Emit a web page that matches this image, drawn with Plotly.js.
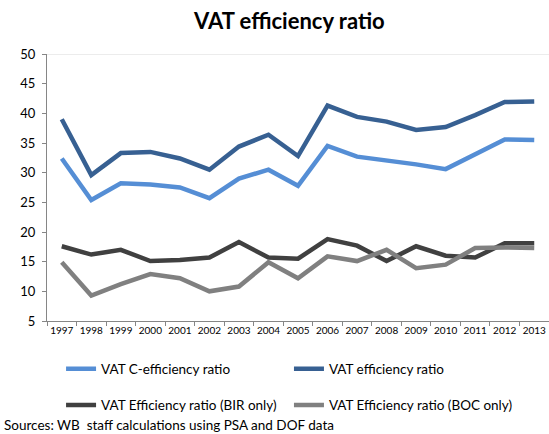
<!DOCTYPE html>
<html><head><meta charset="utf-8">
<script src="https://cdn.plot.ly/plotly-3.0.1.min.js"></script>
<style>body{margin:0;padding:0;background:#fff}#chart{width:549px;height:434px}</style>
</head><body><div id="chart"></div>
<script>
const years = ['1997','1998','1999','2000','2001','2002','2003','2004','2005','2006','2007','2008','2009','2010','2011','2012','2013'];
const cEfficiency = [32.4,25.4,28.2,28.0,27.5,25.7,29.0,30.5,27.8,34.5,32.7,32.1,31.4,30.6,33.1,35.6,35.5];
const vatEfficiency = [39.0,29.6,33.3,33.5,32.4,30.5,34.4,36.4,32.8,41.3,39.4,38.6,37.2,37.7,39.7,41.9,42.0];
const birOnly = [17.6,16.2,17.0,15.1,15.3,15.7,18.3,15.7,15.5,18.8,17.7,15.1,17.6,16.0,15.7,18.1,18.1];
const bocOnly = [14.9,9.3,11.2,12.9,12.2,10.0,10.8,14.9,12.2,15.9,15.1,17.0,13.9,14.5,17.3,17.4,17.3];
const names = ['VAT C-efficiency ratio','VAT efficiency ratio','VAT Efficiency ratio (BIR only)','VAT Efficiency ratio (BOC only)'];
const yTicks = [5,10,15,20,25,30,35,40,45,50];

const colors = ['#558ed5','#376092','#404040','#808080'];
const series = [cEfficiency, vatEfficiency, birOnly, bocOnly];
const legendIds = ['legend','legend2','legend3','legend4'];
const traces = series.map((s,i)=>({
  x: years, y: s, name: names[i], type:'scatter', mode:'lines',
  line:{color:colors[i], width:4.5}, legend: legendIds[i]
}));
const font = 'Lato, "Open Sans", sans-serif';
function leg(x, y){
  return {orientation:'v', x:x, xanchor:'left', y:y, yanchor:'middle',
    font:{size:13.5, family:font}, itemwidth:30, bgcolor:'rgba(0,0,0,0)', borderwidth:0};
}
const layout = {
  width:549, height:434,
  margin:{l:47, r:0, t:54, b:113, autoexpand:false},
  paper_bgcolor:'#fff', plot_bgcolor:'#fff',
  title:{text:'<b>VAT efficiency ratio</b>', font:{family:font, size:22, color:'#000'}, x:0.527, xanchor:'center', y:0.95, yanchor:'middle'},
  font:{family:font, color:'#000'},
  xaxis:{type:'category', tickvals:years, ticktext:years, range:[-0.5,16.5], tickson:'boundaries', tickangle:0,
    ticks:'outside', ticklen:4, tickcolor:'#868686', showline:true, linecolor:'#868686', linewidth:1,
    showgrid:false, zeroline:false, tickfont:{size:10, family:font}, fixedrange:true},
  yaxis:{range:[5,50], tickvals:yTicks, ticks:'outside', ticklen:4, tickcolor:'#868686',
    showline:true, linecolor:'#868686', linewidth:1, showgrid:false, zeroline:false,
    tickfont:{size:13, family:font}, ticklabelstandoff:4},
  shapes:[{type:'line', xref:'paper', x0:0, x1:1, yref:'y', y0:50, y1:50, line:{color:'#d9d9d9', width:1}}],
  showlegend:true,
  legend: leg(0.028, -0.18),
  legend2: leg(0.482, -0.18),
  legend3: leg(0.028, -0.315),
  legend4: leg(0.482, -0.315),
  annotations:[{xref:'paper', yref:'paper', x:-0.0896, y:-0.388, xanchor:'left', yanchor:'middle', showarrow:false,
    text:'Sources: WB  staff calculations using PSA and DOF data', font:{size:13.5, family:font}}]
};
Plotly.newPlot('chart', traces, layout, {displayModeBar:false, staticPlot:true});
</script></body></html>
